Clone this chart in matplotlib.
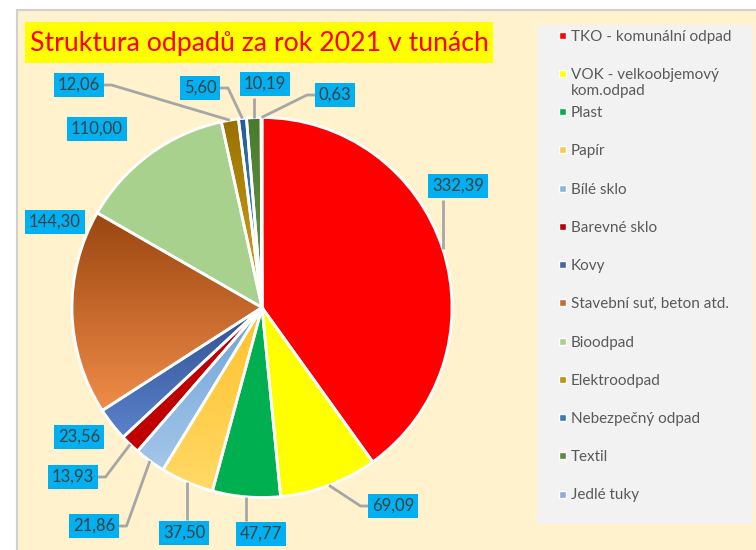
import numpy as np
import matplotlib.pyplot as plt
from matplotlib.patches import Rectangle
from matplotlib.colors import to_rgba

plt.rcParams['font.family'] = ['Lato', 'DejaVu Sans']

categories = ['TKO - komunální odpad', 'VOK - velkoobjemový\nkom.odpad', 'Plast', 'Papír',
              'Bílé sklo', 'Barevné sklo', 'Kovy', 'Stavební suť, beton atd.', 'Bioodpad',
              'Elektroodpad', 'Nebezpečný odpad', 'Textil', 'Jedlé tuky']
values = [332.39, 69.09, 47.77, 37.50, 21.86, 13.93, 23.56, 144.30, 110.00, 12.06, 5.60, 10.19, 0.63]
value_labels = [f'{v:.2f}'.replace('.', ',') for v in values]

# gradient fill per slice: colour at the top of the slice, colour at the bottom
top_colors = ['#FF0000', '#FFFF00', '#00B050', '#FFC12A', '#6FA3D8', '#C00000', '#2F5090',
              '#9A4510', '#A9D18E', '#987000', '#1F5C99', '#4A7A2C', '#8FAADC']
bottom_colors = ['#FF0000', '#FFFF00', '#00B050', '#FFD966', '#A4C6EA', '#C00000', '#5B82CC',
                 '#F08C48', '#A9D18E', '#D9A520', '#5B9BD5', '#6A9A4A', '#8FAADC']
legend_colors = ['#FF0000', '#FFFF00', '#00B050', '#FFC84A', '#8AB6E2', '#C00000', '#44679F',
                 '#C96A2E', '#A9D18E', '#C0900F', '#3A78B8', '#5A8A3C', '#8FAADC']

# label box centres (pixels) and where the leader line meets the box
label_pos = [(458, 186), (393, 506), (261, 534), (184, 533), (94, 526), (73, 477), (79, 437),
             (55, 222), (97, 129), (79, 85), (200, 88), (265, 84), (335, 95)]
leader_side = ['bottom', 'left', 'top', 'top', 'right', 'right', None,
               None, None, 'right', 'right', 'bottom', 'left']

W, H = 756, 550
fig = plt.figure(figsize=(W / 100, H / 100), dpi=100)
ax = fig.add_axes([0, 0, 1, 1])

# chart area background
ax.add_patch(Rectangle((17, 10), 800, 600, facecolor='#FFF2CC', edgecolor='#D0D0D0', lw=1.5, zorder=0))

cx, cy, r = 262, 307.5, 190
wedges, _ = ax.pie(values, startangle=-90, counterclock=True, center=(cx, cy), radius=r,
                   wedgeprops=dict(edgecolor='white', linewidth=2))

for w, c1, c2 in zip(wedges, top_colors, bottom_colors):
    ext = w.get_path().get_extents()
    t = np.linspace(0, 1, 256)[:, None, None]
    img = (1 - t) * np.array(to_rgba(c1)) + t * np.array(to_rgba(c2))
    im = ax.imshow(img, extent=(ext.x0, ext.x1, ext.y1, ext.y0), origin='upper',
                   aspect='auto', interpolation='bilinear', zorder=1)
    im.set_clip_path(w)
    w.set_facecolor('none')
    w.set_zorder(2)

# data labels with leader lines
for w, txt, (lx, ly), side in zip(wedges, value_labels, label_pos, leader_side):
    if side is not None:
        a = np.deg2rad((w.theta1 + w.theta2) / 2)
        ax_, ay_ = cx + r * np.cos(a), cy + r * np.sin(a)
        hw = (9 * len(txt) + 4) / 2
        if side == 'left':
            pts = [(ax_, ay_), (lx - hw - 8, ly), (lx - hw, ly)]
        elif side == 'right':
            pts = [(ax_, ay_), (lx + hw + 8, ly), (lx + hw, ly)]
        else:
            px = min(max(ax_, lx - hw + 5), lx + hw - 5)
            py = ly + 13.5 if side == 'bottom' else ly - 13.5
            pts = [(ax_, ay_), (px, py)]
        xs, ys = zip(*pts)
        ax.plot(xs, ys, color='#A6A6A6', lw=2, zorder=3, solid_capstyle='butt')
    ax.text(lx, ly, txt, ha='center', va='center', fontsize=12, color='#404040', zorder=4,
            bbox=dict(boxstyle='square,pad=0.25', facecolor='#00B0F0', edgecolor='none'))

# title
ax.add_patch(Rectangle((25, 22), 468, 41, facecolor='#FFFF00', zorder=3))
ax.text(259, 43, 'Struktura odpadů za rok 2021 v tunách', color='#FF0000', fontsize=19.2,
        ha='center', va='center', zorder=4)

# legend
ax.add_patch(Rectangle((537, 25), 216, 499, facecolor='#F2F2F2', zorder=1))
for i, (name, c) in enumerate(zip(categories, legend_colors)):
    y = 35 + i * 38.25
    ax.add_patch(Rectangle((558.5, y - 3.5), 7, 7, facecolor=c, edgecolor='white', lw=1, zorder=3))
    ax.text(571, y - 5.5, name, va='top', ha='left', fontsize=11, color='#595959',
            linespacing=1.25, zorder=3)

ax.set_xlim(0, W)
ax.set_ylim(H, 0)
ax.set_aspect('auto')
ax.axis('off')

fig.savefig('out.png', dpi=100)
